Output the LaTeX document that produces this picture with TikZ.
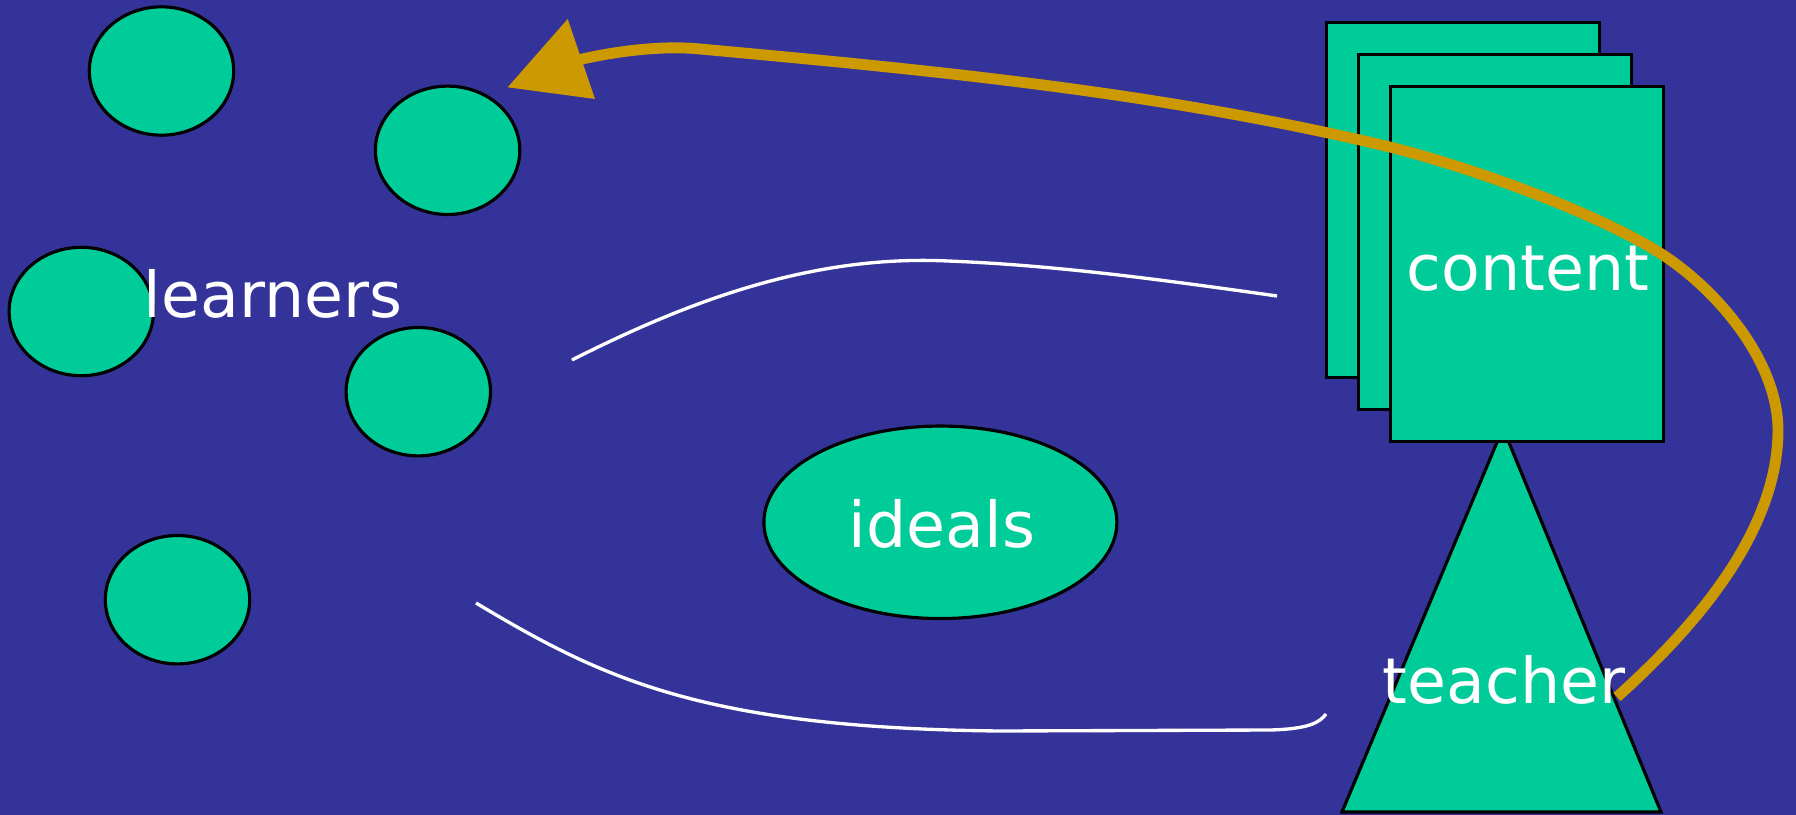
\documentclass[tikz,border=0pt]{standalone}
\usepackage{fontspec}
\setmainfont{DejaVu Sans}
\usetikzlibrary{shapes.geometric}
\definecolor{bgblue}{RGB}{51,51,153}
\definecolor{tgreen}{RGB}{0,204,153}
\definecolor{tgold}{RGB}{204,153,0}
\begin{document}
\begin{tikzpicture}[x=0.01cm,y=-0.01cm,
  blob/.style={ellipse, draw=black, line width=0.9pt, fill=tgreen, minimum width=1.443cm, minimum height=1.283cm, inner sep=0pt},
  page/.style={rectangle, draw=black, line width=0.9pt, fill=tgreen, minimum width=2.73cm, minimum height=3.55cm, inner sep=0pt},
  lbl/.style={text=white, font=\fontsize{18}{20}\selectfont, anchor=base, inner sep=0pt},
  flow/.style={draw=white, line width=0.95pt},
  back/.style={draw=tgold, line width=3.1pt}]
\useasboundingbox (0,0) rectangle (1796,815);
\fill[bgblue] (0,0) rectangle (1796,815);
% learners
\node[blob] (l1) at (161.5,71) {};
\node[blob] (l2) at (447.6,150.3) {};
\node[blob] (l3) at (81.3,311.5) {};
\node[blob] (l4) at (418.3,391.7) {};
\node[blob] (l5) at (177.5,599.7) {};
% ideals
\node[ellipse, draw=black, line width=0.9pt, fill=tgreen, minimum width=3.528cm, minimum height=1.924cm, inner sep=0pt] (ideals) at (940.4,522.3) {};
% white flows
\coordinate (u0) at (572,360);
\coordinate (u1) at (948,261);
\coordinate (u2) at (1277,296);
\path[flow] (u0) .. controls (700,295) and (820,255) .. (u1) .. controls (1050,265) and (1150,278) .. (u2);
\coordinate (w0) at (476,603);
\coordinate (w1) at (1000,731);
\coordinate (w2) at (1270,730);
\coordinate (w3) at (1326,714);
\path[flow] (w0) .. controls (600,677) and (700,728) .. (w1) -- (w2) .. controls (1310,729) and (1320,722) .. (w3);
% teacher triangle
\coordinate (tA) at (1503,428);
\coordinate (tB) at (1342,812);
\coordinate (tC) at (1661,812);
\filldraw[fill=tgreen, draw=black, line width=0.9pt, line join=miter] (tA) -- (tC) -- (tB) -- cycle;
% content pages
\node[page] (p1) at (1463,200) {};
\node[page] (p2) at (1495,232) {};
\node[page] (p3) at (1527,264) {};
% labels
\node[lbl] (learners) at (273,317) {learners};
\node[lbl] (content) at (1528,290) {content};
\node[lbl] (teacher) at (1504,703) {teacher};
\node[lbl] (idealslbl) at (942,547.5) {ideals};
% gold feedback arrow
\coordinate (g0) at (1617,697);
\coordinate (g1) at (1778,430);
\coordinate (g2) at (1660,253);
\coordinate (g3) at (1390,147);
\coordinate (g4) at (700,49);
\coordinate (g5) at (578,60);
\draw[back, line cap=butt] (g0) .. controls (1713,611) and (1778,520) .. (g1)
  .. controls (1778,362) and (1718,290) .. (g2)
  .. controls (1598,214) and (1480,170) .. (g3)
  .. controls (1160,92) and (930,70) .. (g4)
  .. controls (660,45) and (612,52) .. (g5);
\coordinate (tip) at (507.7,87.3);
\fill[tgold] (567.7,19) -- (tip) -- (595,99) -- cycle;
\end{tikzpicture}
\end{document}
